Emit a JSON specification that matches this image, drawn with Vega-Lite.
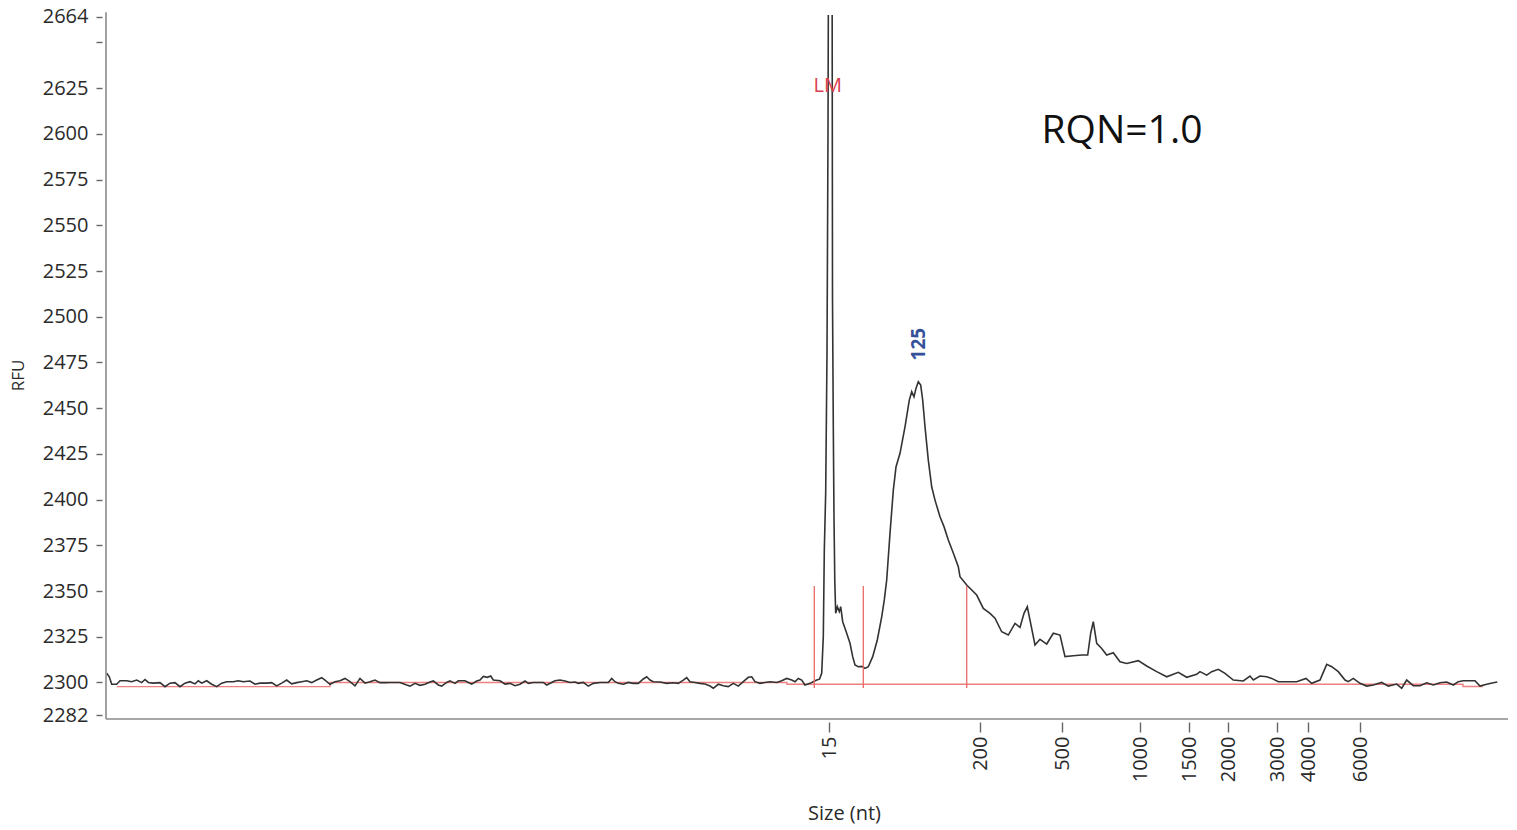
{
  "$schema": "https://vega.github.io/schema/vega-lite/v6.json",
  "width": 1402,
  "height": 704,
  "autosize": {"type": "none"},
  "padding": {"left": 106, "top": 15, "right": 9, "bottom": 111},
  "background": "white",
  "config": {"view": {"stroke": null}, "font": "Open Sans", "axis": {"grid": false}},
  "datasets": {
    "trace": [
      {"time":0.7,"rfu":2305.0},{"time":3.3,"rfu":2303.1},{"time":5.7,"rfu":2299.0},{"time":10.7,"rfu":2299.0},{"time":14,"rfu":2300.9},{"time":20.7,"rfu":2300.9},{"time":25.7,"rfu":2300.4},{"time":30.7,"rfu":2301.3},{"time":35.7,"rfu":2299.9},{"time":39,"rfu":2301.6},{"time":42.3,"rfu":2300.0},{"time":47.3,"rfu":2299.6},{"time":54,"rfu":2299.9},{"time":59,"rfu":2297.7},{"time":64,"rfu":2299.6},{"time":69,"rfu":2299.9},{"time":74,"rfu":2297.7},{"time":79,"rfu":2299.6},{"time":84,"rfu":2300.4},{"time":89,"rfu":2299.2},{"time":92.3,"rfu":2300.9},{"time":95.7,"rfu":2299.6},{"time":100.7,"rfu":2300.9},{"time":105.7,"rfu":2299.0},{"time":110.7,"rfu":2297.7},{"time":115.7,"rfu":2299.6},{"time":120.7,"rfu":2300.4},{"time":127.3,"rfu":2300.4},{"time":132.3,"rfu":2300.9},{"time":137.3,"rfu":2300.4},{"time":144,"rfu":2300.8},{"time":149,"rfu":2299.0},{"time":154,"rfu":2299.6},{"time":160.7,"rfu":2299.6},{"time":165.7,"rfu":2299.9},{"time":170.7,"rfu":2298.1},{"time":175.7,"rfu":2299.6},{"time":180.7,"rfu":2301.3},{"time":185.7,"rfu":2299.2},{"time":190.7,"rfu":2299.9},{"time":195.7,"rfu":2300.4},{"time":200.7,"rfu":2300.9},{"time":205.7,"rfu":2299.9},{"time":210.7,"rfu":2301.3},{"time":215.7,"rfu":2302.6},{"time":219,"rfu":2301.3},{"time":224,"rfu":2299.0},{"time":229,"rfu":2300.4},{"time":234,"rfu":2300.9},{"time":239,"rfu":2302.2},{"time":244,"rfu":2300.4},{"time":249,"rfu":2298.1},{"time":254,"rfu":2302.2},{"time":259,"rfu":2299.6},{"time":264,"rfu":2300.4},{"time":269,"rfu":2301.3},{"time":274,"rfu":2299.9},{"time":279,"rfu":2299.9},{"time":284,"rfu":2300.0},
      {"time":294,"rfu":2300.0},{"time":300.7,"rfu":2298.6},{"time":304,"rfu":2298.0},{"time":309,"rfu":2299.5},{"time":314,"rfu":2298.4},{"time":319,"rfu":2299.0},{"time":324,"rfu":2300.2},{"time":327.3,"rfu":2300.8},{"time":332.3,"rfu":2298.6},{"time":335.7,"rfu":2298.0},{"time":340.7,"rfu":2300.0},{"time":344,"rfu":2300.9},{"time":349,"rfu":2299.5},{"time":352.3,"rfu":2300.9},{"time":359,"rfu":2300.9},{"time":362.3,"rfu":2300.0},{"time":365.7,"rfu":2299.1},{"time":370.7,"rfu":2300.8},{"time":374,"rfu":2301.3},{"time":377.3,"rfu":2303.3},{"time":381.3,"rfu":2302.8},{"time":384.7,"rfu":2303.5},{"time":387.3,"rfu":2301.3},{"time":394,"rfu":2300.9},{"time":399,"rfu":2299.1},{"time":404,"rfu":2299.5},{"time":409,"rfu":2298.2},{"time":414,"rfu":2299.0},{"time":419,"rfu":2300.8},{"time":422.3,"rfu":2299.5},{"time":427.3,"rfu":2300.0},{"time":437.3,"rfu":2300.0},{"time":440.7,"rfu":2298.6},{"time":445.7,"rfu":2300.0},{"time":449,"rfu":2300.9},{"time":454,"rfu":2301.3},{"time":459,"rfu":2300.8},{"time":464,"rfu":2300.0},{"time":469,"rfu":2300.2},{"time":472.3,"rfu":2299.5},{"time":477.3,"rfu":2300.0},{"time":482.3,"rfu":2298.0},{"time":487.3,"rfu":2299.5},{"time":494,"rfu":2300.0},{"time":502.3,"rfu":2300.0},{"time":505.7,"rfu":2302.2},{"time":509,"rfu":2300.4},{"time":512.3,"rfu":2299.5},{"time":517.3,"rfu":2299.0},{"time":522.3,"rfu":2300.0},{"time":527.3,"rfu":2299.5},{"time":532.3,"rfu":2299.5},{"time":537.3,"rfu":2301.9},{"time":540.7,"rfu":2303.1},{"time":544,"rfu":2301.3},{"time":547.3,"rfu":2300.4},{"time":554,"rfu":2300.2},{"time":560.7,"rfu":2299.5},{"time":567.3,"rfu":2299.8},{"time":572.3,"rfu":2299.5},{"time":577.3,"rfu":2301.3},{"time":580.7,"rfu":2302.6},{"time":584,"rfu":2300.4},{"time":589,"rfu":2300.0},{"time":594,"rfu":2299.5},{"time":599,"rfu":2299.1},{"time":604,"rfu":2298.0},{"time":607.3,"rfu":2296.8},{"time":612.3,"rfu":2299.0},{"time":617.3,"rfu":2298.2},{"time":622.3,"rfu":2297.7},{"time":627.3,"rfu":2299.5},{"time":632.3,"rfu":2298.0},{"time":637.3,"rfu":2300.4},{"time":642.3,"rfu":2302.8},{"time":645.7,"rfu":2303.1},{"time":649,"rfu":2300.4},{"time":654,"rfu":2299.5},{"time":659,"rfu":2300.0},{"time":664,"rfu":2300.4},{"time":670.7,"rfu":2300.0},{"time":675.7,"rfu":2300.9},{"time":680.7,"rfu":2302.2},{"time":685.7,"rfu":2301.3},{"time":689,"rfu":2300.4},{"time":692.3,"rfu":2302.2},{"time":695.7,"rfu":2301.3},{"time":699,"rfu":2298.6},{"time":704,"rfu":2299.5},{"time":707.3,"rfu":2300.4},{"time":710.7,"rfu":2301.3},
      {"time":713.5,"rfu":2301.8},{"time":715.7,"rfu":2305},{"time":717.3,"rfu":2325},{"time":718.3,"rfu":2372},{"time":719.7,"rfu":2404},{"time":721,"rfu":2480},{"time":722,"rfu":2600},{"time":722.5,"rfu":2700},{"time":723.2,"rfu":3000},{"time":725.5,"rfu":3000},{"time":726.2,"rfu":2650},{"time":726.5,"rfu":2510},{"time":727.3,"rfu":2440},{"time":728,"rfu":2390},{"time":728.8,"rfu":2355},{"time":729.7,"rfu":2337.8},{"time":731.3,"rfu":2341.4},{"time":733.3,"rfu":2338.7},{"time":734.7,"rfu":2341.4},{"time":736.7,"rfu":2333.2},{"time":740.7,"rfu":2326.9},{"time":744,"rfu":2321.4},{"time":746.7,"rfu":2314.1},{"time":749,"rfu":2309.5},{"time":752.3,"rfu":2308.6},{"time":755.7,"rfu":2308.8},{"time":759,"rfu":2307.7},{"time":762.3,"rfu":2308.6},{"time":766.7,"rfu":2314.1},{"time":771.3,"rfu":2323.2},{"time":775.7,"rfu":2335.9},{"time":778.3,"rfu":2345.1},{"time":780.7,"rfu":2356},{"time":784,"rfu":2381.5},{"time":787.3,"rfu":2405},{"time":790,"rfu":2417.8},{"time":794,"rfu":2425.3},{"time":799,"rfu":2439.8},{"time":803.3,"rfu":2454.4},{"time":805.7,"rfu":2459},{"time":808,"rfu":2456.2},{"time":810,"rfu":2460.8},{"time":812.3,"rfu":2464.4},{"time":814.7,"rfu":2462.6},{"time":816.7,"rfu":2454.4},{"time":819,"rfu":2439.8},{"time":822.3,"rfu":2421.6},{"time":825.7,"rfu":2407.0},{"time":829,"rfu":2399.7},{"time":834,"rfu":2390.6},{"time":838,"rfu":2385.2},{"time":842.3,"rfu":2377.9},{"time":847.3,"rfu":2370.8},{"time":852.3,"rfu":2363.3},{"time":854,"rfu":2357.8},{"time":860.7,"rfu":2353.3},{"time":870.7,"rfu":2347.8},{"time":877.3,"rfu":2340.5},{"time":884,"rfu":2337.8},{"time":889,"rfu":2335.1},{"time":895.7,"rfu":2327.7},{"time":902.3,"rfu":2325.9},{"time":909,"rfu":2332.3},{"time":914,"rfu":2330.1},{"time":918,"rfu":2337.8},{"time":921.3,"rfu":2341.4},{"time":924,"rfu":2334.1},{"time":929,"rfu":2320.5},{"time":934,"rfu":2323.6},{"time":940.7,"rfu":2321.0},{"time":947.3,"rfu":2326.9},{"time":954,"rfu":2325.9},{"time":959,"rfu":2314.1},{"time":967.3,"rfu":2314.6},{"time":975.7,"rfu":2315.0},{"time":981.7,"rfu":2315.0},{"time":984.7,"rfu":2326.9},{"time":987.3,"rfu":2333.2},{"time":990.7,"rfu":2321.4},{"time":995.7,"rfu":2318.6},{"time":1000.7,"rfu":2315.0},{"time":1007.3,"rfu":2316.2},{"time":1014,"rfu":2311.3},{"time":1020.7,"rfu":2310.4},{"time":1032.3,"rfu":2311.9},{"time":1040.7,"rfu":2309.0},{"time":1050.7,"rfu":2305.9},{"time":1060.7,"rfu":2303.1},{"time":1072.3,"rfu":2305.5},{"time":1080.7,"rfu":2302.8},{"time":1090.7,"rfu":2304.4},{"time":1094,"rfu":2305.9},{"time":1100.7,"rfu":2304.0},{"time":1105.7,"rfu":2305.9},{"time":1112.3,"rfu":2307.2},{"time":1119,"rfu":2305.0},{"time":1127.3,"rfu":2301.3},{"time":1137.3,"rfu":2300.8},{"time":1144,"rfu":2303.5},{"time":1147.3,"rfu":2301.3},{"time":1154,"rfu":2303.5},{"time":1160.7,"rfu":2303.1},{"time":1165.7,"rfu":2302.2},{"time":1172.3,"rfu":2300.4},{"time":1180.7,"rfu":2300.4},{"time":1190.7,"rfu":2300.4},{"time":1200,"rfu":2302.2},{"time":1205.7,"rfu":2299.5},{"time":1214,"rfu":2301.3},{"time":1220.7,"rfu":2309.9},{"time":1225.7,"rfu":2308.6},{"time":1232.3,"rfu":2305.9},{"time":1239,"rfu":2301.3},{"time":1242.3,"rfu":2300.4},{"time":1247.3,"rfu":2302.2},{"time":1254,"rfu":2299.5},{"time":1260.7,"rfu":2298.0},{"time":1267.3,"rfu":2298.6},{"time":1275.7,"rfu":2300.0},{"time":1282.3,"rfu":2298.0},{"time":1290.7,"rfu":2299.1},{"time":1295.7,"rfu":2296.8},{"time":1300.7,"rfu":2301.3},{"time":1307.3,"rfu":2298.2},{"time":1314,"rfu":2298.2},{"time":1320.7,"rfu":2299.8},{"time":1327.3,"rfu":2298.6},{"time":1334,"rfu":2299.8},{"time":1340.7,"rfu":2300.2},{"time":1347.3,"rfu":2298.6},{"time":1352.3,"rfu":2300.4},{"time":1357.3,"rfu":2300.9},{"time":1369,"rfu":2300.9},{"time":1374,"rfu":2298.0},{"time":1380.7,"rfu":2299.0},{"time":1387.3,"rfu":2299.8},{"time":1391.3,"rfu":2300.2}
    ],
    "baseline": [
      {"time":10.7,"rfu":2297.7},{"time":224,"rfu":2297.7},{"time":224,"rfu":2300},{"time":681,"rfu":2300},{"time":681,"rfu":2299},{"time":1357,"rfu":2299},{"time":1357,"rfu":2297.8},{"time":1377,"rfu":2297.8}
    ],
    "markers": [
      {"time":708.3,"rfu":2352.7,"rfu_end":2297},
      {"time":757.3,"rfu":2352.7,"rfu_end":2297},
      {"time":860.7,"rfu":2352.7,"rfu_end":2297}
    ],
    "frame": [
      {"side":"bottom","time":0,"rfu":2280},{"side":"bottom","time":1402,"rfu":2280},
      {"side":"left","time":0,"rfu":2280},{"side":"left","time":0,"rfu":2666.5}
    ],
    "lm": [{"time":721.7,"rfu":2626,"label":"LM"}],
    "peak": [{"time":813,"rfu":2485,"label":"125"}],
    "rqn": [{"time":1016,"rfu":2601.5,"label":"RQN=1.0"}]
  },
  "encoding": {
    "x": {"field": "time", "type": "quantitative",
      "scale": {"domain": [0, 1402], "nice": false, "zero": false},
      "axis": {
        "values": [723, 874, 956, 1034, 1083, 1122, 1171, 1202, 1254],
        "labelExpr": "datum.value == 723 ? '15' : datum.value == 874 ? '200' : datum.value == 956 ? '500' : datum.value == 1034 ? '1000' : datum.value == 1083 ? '1500' : datum.value == 1122 ? '2000' : datum.value == 1171 ? '3000' : datum.value == 1202 ? '4000' : '6000'",
        "domain": false, "offset": 3, "tickSize": 10, "tickColor": "#666", "tickWidth": 1.4,
        "labelAngle": 270, "labelFontSize": 20, "labelColor": "#2a2a2a", "labelPadding": 4,
        "labelFlush": false, "labelOverlap": false,
        "title": "Size (nt)", "titleFontSize": 20, "titleFontWeight": "normal", "titleColor": "#2a2a2a",
        "titleX": 738, "titleY": 91, "titleAlign": "center", "titleBaseline": "middle"
      }
    },
    "y": {"field": "rfu", "type": "quantitative",
      "scale": {"domain": [2280, 2665], "nice": false, "zero": false},
      "axis": {
        "values": [2282, 2300, 2325, 2350, 2375, 2400, 2425, 2450, 2475, 2500, 2525, 2550, 2575, 2600, 2625, 2650, 2664],
        "labelExpr": "datum.value == 2650 ? '' : format(datum.value, 'd')",
        "domain": false, "offset": 4, "tickSize": 6, "tickColor": "#666", "tickWidth": 1.4,
        "labelFontSize": 20, "labelColor": "#2a2a2a", "labelPadding": 8, "labelFlush": false, "labelOverlap": false,
        "title": "RFU", "titleFontSize": 17, "titleFontWeight": "normal", "titleColor": "#2a2a2a",
        "titleX": -84, "titleY": 360, "titleAlign": "center", "titleBaseline": "middle", "titleAngle": 270
      }
    }
  },
  "layer": [
    {
      "data": {"name": "baseline"},
      "mark": {"type": "line", "color": "#ee8080", "strokeWidth": 1.4}
    },
    {
      "data": {"name": "trace"},
      "mark": {"type": "line", "color": "#333333", "strokeWidth": 1.6, "clip": true}
    },
    {
      "data": {"name": "markers"},
      "mark": {"type": "rule", "color": "#ea6a6a", "strokeWidth": 1.3},
      "encoding": {"y2": {"field": "rfu_end"}}
    },
    {
      "data": {"name": "frame"},
      "mark": {"type": "line", "color": "#8a8a8a", "strokeWidth": 1.6},
      "encoding": {"detail": {"field": "side"}}
    },
    {
      "data": {"name": "lm"},
      "mark": {"type": "text", "color": "#d9404f", "fontSize": 20, "align": "center", "baseline": "middle", "font": "Open Sans"},
      "encoding": {"text": {"field": "label"}}
    },
    {
      "data": {"name": "peak"},
      "mark": {"type": "text", "color": "#34509a", "fontSize": 19, "fontWeight": "bold", "angle": 270, "align": "center", "baseline": "middle", "font": "Open Sans"},
      "encoding": {"text": {"field": "label"}}
    },
    {
      "data": {"name": "rqn"},
      "mark": {"type": "text", "color": "#111111", "fontSize": 39, "align": "center", "baseline": "middle", "font": "Open Sans"},
      "encoding": {"text": {"field": "label"}}
    }
  ]
}
